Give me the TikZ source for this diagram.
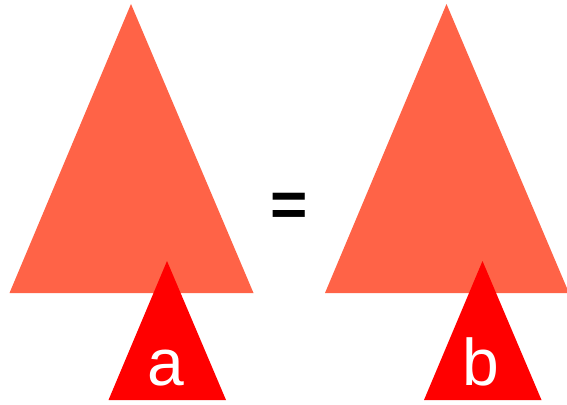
\documentclass[tikz,border=0pt]{standalone}
\usepackage{fontspec}
\setmainfont{Liberation Sans}
\usepackage{xcolor}
\definecolor{tomato}{RGB}{255,99,71}

\begin{document}
\begin{tikzpicture}[
    x=1pt, y=-1pt,
    bigtri/.style={fill=tomato},
    subtri/.style={fill=red},
    leaf/.style={text=white, inner sep=0pt, anchor=base, font=\fontsize{66}{66}\selectfont},
    eqsign/.style={inner sep=0pt, font=\fontsize{64}{64}\selectfont\bfseries}
]
\useasboundingbox (0,0) rectangle (567,404);
% two trees, each with a subtree hanging below
\foreach \dx/\lab in {0/a,315.5/b} {
    \begin{scope}[shift={(\dx,0)}]
        \fill[bigtri] (131,4) -- (253.5,293) -- (9.5,293) -- cycle;
        \fill[subtri] (167,261) -- (226,400) -- (108.5,400) -- cycle;
        \node[leaf] (\lab) at (165.5,385) {\lab};
    \end{scope}
}
\node[eqsign] (eq) at (289,209.5) {=};
\end{tikzpicture}
\end{document}
